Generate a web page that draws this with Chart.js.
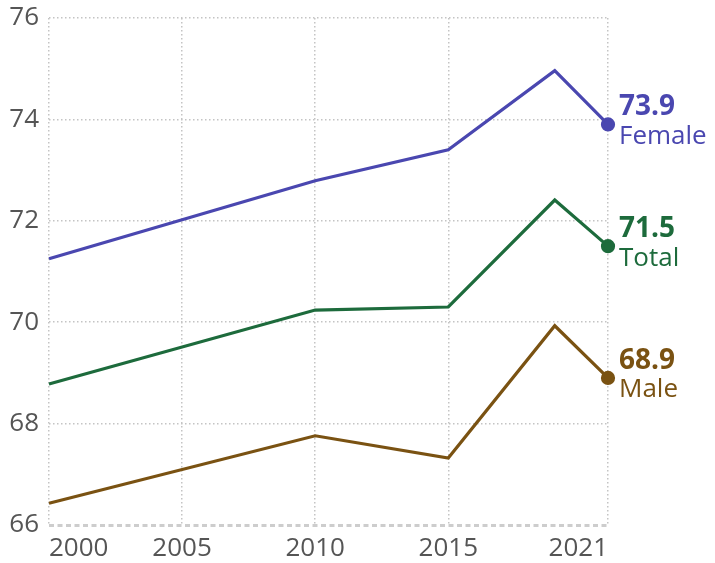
<!DOCTYPE html>
<html>
<head>
<meta charset="utf-8">
<script src="https://cdn.jsdelivr.net/npm/chart.js@4.4.1/dist/chart.umd.min.js"></script>
<style>
  html, body { margin: 0; padding: 0; background: #fff; }
  #wrap { width: 715px; height: 563px; }
</style>
</head>
<body>
<div id="wrap"><canvas id="myChart" width="715" height="563"></canvas></div>
<script>
// data
const years = [2000, 2010, 2015, 2019, 2021];
const female = [71.25, 72.79, 73.40, 74.96, 73.9];
const total = [68.78, 70.24, 70.30, 72.41, 71.5];
const male = [66.43, 67.76, 67.32, 69.93, 68.9];
const xTicks = [2000, 2005, 2010, 2015, 2021];
const yTicks = [66, 68, 70, 72, 74, 76];

const seriesNames = ['Female', 'Total', 'Male'];
const seriesColors = ['#4a47b0', '#1d6b3c', '#7a5212'];

const toPoints = (vals) => years.map((y, i) => ({ x: y, y: vals[i] }));
const isBase = (c) => c.tick && c.tick.value === 66;

// end labels: value in bold above, name below
const endLabels = {
  id: 'endLabels',
  afterDatasetsDraw(chart) {
    const ctx = chart.ctx;
    chart.data.datasets.forEach((ds, i) => {
      const meta = chart.getDatasetMeta(i);
      const last = meta.data[meta.data.length - 1];
      const val = ds.data[ds.data.length - 1].y;
      ctx.save();
      ctx.fillStyle = ds.borderColor;
      ctx.textAlign = 'left';
      ctx.textBaseline = 'middle';
      ctx.font = 'bold 28px "Open Sans"';
      ctx.fillText(val.toFixed(1), last.x + 11, last.y - 17);
      ctx.font = '26px "Open Sans"';
      ctx.fillText(ds.label, last.x + 11, last.y + 12);
      ctx.restore();
    });
  }
};

const datasets = [female, total, male].map((vals, i) => ({
  label: seriesNames[i],
  data: toPoints(vals),
  borderColor: seriesColors[i],
  backgroundColor: seriesColors[i],
  borderWidth: 3.2,
  pointRadius: (c) => c.dataIndex === years.length - 1 ? 5.5 : 0,
  pointHoverRadius: 0,
  tension: 0,
  clip: false
}));

new Chart(document.getElementById('myChart'), {
  type: 'line',
  plugins: [endLabels],
  data: { datasets },
  options: {
    animation: false,
    responsive: false,
    layout: { padding: { top: 18, right: 107, left: 0, bottom: 0 } },
    plugins: { legend: { display: false }, tooltip: { enabled: false } },
    scales: {
      x: {
        type: 'linear',
        min: 2000,
        max: 2021,
        afterBuildTicks: (s) => { s.ticks = xTicks.map(v => ({ value: v })); },
        afterFit: (s) => { s.height = 38; s.paddingLeft = 0; s.paddingRight = 0; },
        grid: { color: '#c4c4c4', lineWidth: 1.5, drawTicks: false },
        border: { display: false, dash: [1.5, 2.5] },
        ticks: {
          align: 'inner',
          padding: 8,
          color: '#555',
          font: { family: 'Open Sans', size: 26 },
          callback: (v) => String(v)
        }
      },
      y: {
        min: 66,
        max: 76,
        afterBuildTicks: (s) => { s.ticks = yTicks.map(v => ({ value: v })); },
        afterFit: (s) => { s.width = 49; s.paddingTop = 0; s.paddingBottom = 0; },
        grid: {
          color: (c) => isBase(c) ? '#cdcdcd' : '#c4c4c4',
          lineWidth: (c) => isBase(c) ? 3 : 1.5,
          drawTicks: false
        },
        border: { display: false, dash: (c) => isBase(c) ? [5, 3.5] : [1.5, 2.5] },
        ticks: {
          padding: 10,
          color: '#555',
          font: { family: 'Open Sans', size: 26 }
        }
      }
    }
  }
});
</script>
</body>
</html>
